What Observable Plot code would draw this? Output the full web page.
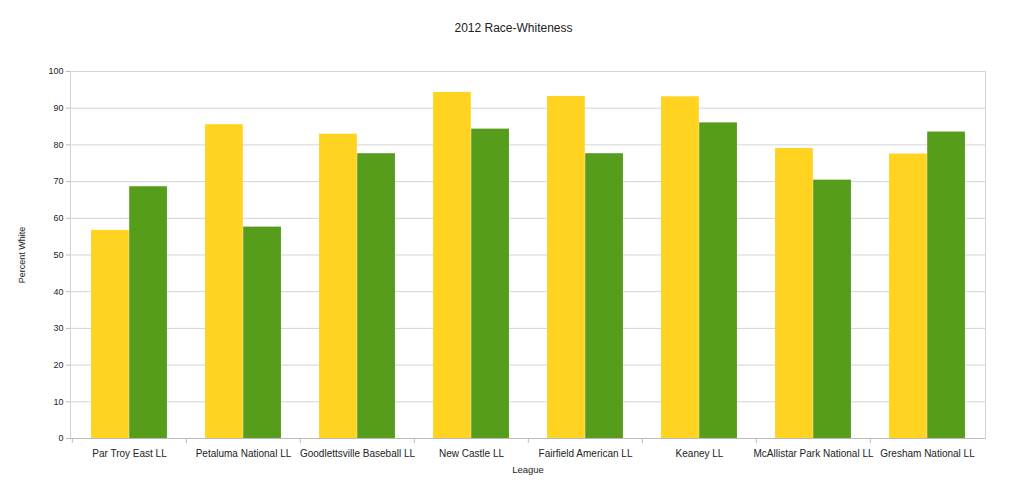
<!DOCTYPE html>
<html>
<head>
<meta charset="utf-8">
<script src="https://cdn.jsdelivr.net/npm/d3@7"></script>
<script src="https://cdn.jsdelivr.net/npm/@observablehq/plot@0.6"></script>
<style>
  html, body { margin: 0; padding: 0; background: #fff; }
  #title { height: 50px; box-sizing: border-box; padding-top: 21px; text-align: center; padding-left: 16px;
           font-family: "Liberation Sans", Arial, sans-serif; font-size: 12px; color: #222; line-height: 14px; }
  #chart svg { display: block; }
</style>
</head>
<body>
<div id="title">2012 Race-Whiteness</div>
<div id="chart"></div>
<script>
const leagues = ["Par Troy East LL", "Petaluma National LL", "Goodlettsville Baseball LL", "New Castle LL",
  "Fairfield American LL", "Keaney LL", "McAllistar Park National LL", "Gresham National LL"];
const seriesA = [56.7, 85.5, 82.9, 94.3, 93.2, 93.1, 79.0, 77.5];
const seriesB = [68.6, 57.6, 77.6, 84.3, 77.6, 86.0, 70.4, 83.5];
const yTicks = [0, 10, 20, 30, 40, 50, 60, 70, 80, 90, 100];

const colorA = "#ffd320";
const colorB = "#579d1c";

const width = 1011, height = 433;
const marginLeft = 70, marginRight = 26, marginTop = 21, marginBottom = 45;
const step = (width - marginLeft - marginRight) / leagues.length;

const dataA = leagues.map((l, i) => ({league: l, value: seriesA[i]}));
const dataB = leagues.map((l, i) => ({league: l, value: seriesB[i]}));

const plot = Plot.plot({
  width, height, marginLeft, marginRight, marginTop, marginBottom,
  style: {fontFamily: "'Liberation Sans', Arial, sans-serif", fontSize: "10px", color: "#222", background: "#fff"},
  x: {type: "band", domain: leagues, padding: 0},
  y: {domain: [0, 100]},
  marks: [
    Plot.gridY(yTicks, {stroke: "#d4d4d4", strokeOpacity: 1}),
    Plot.frame({stroke: "#d4d4d4"}),
    Plot.barY(dataA, {x: "league", y: "value", fill: colorA, insetLeft: step / 6, insetRight: step / 2}),
    Plot.barY(dataB, {x: "league", y: "value", fill: colorB, insetLeft: step / 2, insetRight: step / 6}),
    Plot.axisY(yTicks, {tickSize: 4, tickPadding: 3, stroke: "#bbb", label: "Percent White", labelAnchor: "center",
      labelOffset: 52, labelArrow: "none", fontSize: 9}),
    Plot.axisX({tickSize: 0, tickPadding: 11, label: null, fontSize: 10}),
    Plot.axisX({tickSize: 0, text: null, label: "League", labelAnchor: "center", labelOffset: 34, dx: -10,
      labelArrow: "none", fontSize: 9.5}),
    Plot.axisX({tickSize: 5, text: null, label: null, dx: -step / 2, stroke: "#bbb"}),
    Plot.ruleY([0], {stroke: "#bbb"})
  ]
});
document.getElementById("chart").appendChild(plot);
</script>
</body>
</html>
